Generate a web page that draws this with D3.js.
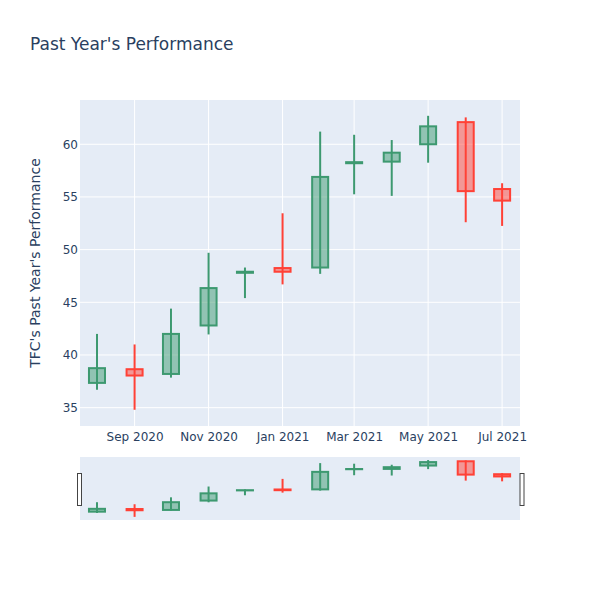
<!DOCTYPE html>
<html>
<head>
<meta charset="utf-8">
<script src="https://cdn.jsdelivr.net/npm/d3@7/dist/d3.min.js"></script>
<style>
  body { margin: 0; background: #fff; }
  svg text { font-family: "DejaVu Sans", sans-serif; fill: #2a3f5f; }
</style>
</head>
<body>
<svg id="chart" width="600" height="600"></svg>
<script>
const dates = ["2020-08-01","2020-09-01","2020-10-01","2020-11-01","2020-12-01","2021-01-01",
               "2021-02-01","2021-03-01","2021-04-01","2021-05-01","2021-06-01","2021-07-01"];
const openVals  = [37.35, 38.65, 38.2, 42.8, 47.8, 48.25, 48.3, 58.2, 58.35, 60.0, 62.1, 55.75];
const highVals  = [42.0, 41.0, 44.4, 49.7, 48.3, 53.45, 61.2, 60.9, 60.4, 62.7, 62.55, 56.3];
const lowVals   = [36.7, 34.8, 37.85, 41.95, 45.4, 46.7, 47.7, 55.25, 55.1, 58.25, 52.6, 52.25];
const closeVals = [38.75, 38.05, 42.0, 46.35, 47.9, 47.9, 56.9, 58.3, 59.2, 61.7, 55.55, 54.65];
const yTicks = [35, 40, 45, 50, 55, 60];
const xTickDates = ["2020-09-01","2020-11-01","2021-01-01","2021-03-01","2021-05-01","2021-07-01"];
const xTickLabels = ["Sep 2020","Nov 2020","Jan 2021","Mar 2021","May 2021","Jul 2021"];
const titleText = "Past Year's Performance";
const yTitle = "TFC's Past Year's Performance";

const parse = d3.utcParse("%Y-%m-%d");
const data = dates.map((d, i) => ({
  date: parse(d), open: openVals[i], high: highVals[i], low: lowVals[i], close: closeVals[i]
}));

const svg = d3.select("#chart");
const plot = {left: 80, right: 520, top: 100, bottom: 426};
const slider = {top: 457, bottom: 520};

const x = d3.scaleUtc()
  .domain([new Date(Date.UTC(2020, 6, 18)), new Date(Date.UTC(2021, 6, 15, 18))])
  .range([plot.left, plot.right]);
const yDomain = [33.26, 64.2];
const y = d3.scaleLinear().domain(yDomain).range([plot.bottom, plot.top]);
const ys = d3.scaleLinear().domain(yDomain).range([slider.bottom, slider.top]);

const DAY = 86400000;
const halfW = 6.6 * DAY;
const incColor = "rgb(61,153,112)";
const decColor = "rgb(255,65,54)";

svg.append("rect").attr("x", plot.left).attr("y", plot.top)
  .attr("width", plot.right - plot.left).attr("height", plot.bottom - plot.top)
  .attr("fill", "#E5ECF6");

const xTicks = xTickDates.map(parse);
svg.append("g").selectAll("line").data(xTicks).join("line")
  .attr("x1", d => x(d)).attr("x2", d => x(d))
  .attr("y1", plot.top).attr("y2", plot.bottom)
  .attr("stroke", "#fff").attr("stroke-width", 1);
svg.append("g").selectAll("line").data(yTicks).join("line")
  .attr("x1", plot.left).attr("x2", plot.right)
  .attr("y1", d => y(d)).attr("y2", d => y(d))
  .attr("stroke", "#fff").attr("stroke-width", 1);

const yAxis = d3.axisLeft(y).tickValues(yTicks).tickSize(0).tickPadding(2);
const gy = svg.append("g").attr("transform", `translate(${plot.left},0)`).call(yAxis);
gy.select(".domain").remove();
gy.selectAll("text").attr("font-size", 12).style("fill", "#2a3f5f")
  .attr("font-family", "'DejaVu Sans', sans-serif");

const xAxis = d3.axisBottom(x).tickValues(xTicks)
  .tickFormat((d, i) => xTickLabels[i]).tickSize(0).tickPadding(6);
const gx = svg.append("g").attr("transform", `translate(0,${plot.bottom})`).call(xAxis);
gx.select(".domain").remove();
gx.selectAll("text").attr("font-size", 12).style("fill", "#2a3f5f")
  .attr("font-family", "'DejaVu Sans', sans-serif");

function drawCandles(g, yScale) {
  const c = g.selectAll("g.candle").data(data).join("g").attr("class", "candle");
  c.append("line")
    .attr("x1", d => x(d.date)).attr("x2", d => x(d.date))
    .attr("y1", d => yScale(d.high)).attr("y2", d => yScale(d.low))
    .attr("stroke", d => d.close >= d.open ? incColor : decColor)
    .attr("stroke-width", 2);
  c.append("rect")
    .attr("x", d => x(new Date(d.date.getTime() - halfW)))
    .attr("width", d => x(new Date(d.date.getTime() + halfW)) - x(new Date(d.date.getTime() - halfW)))
    .attr("y", d => yScale(Math.max(d.open, d.close)))
    .attr("height", d => Math.abs(yScale(d.open) - yScale(d.close)))
    .attr("fill", d => d.close >= d.open ? "rgba(61,153,112,0.5)" : "rgba(255,65,54,0.5)")
    .attr("stroke", d => d.close >= d.open ? incColor : decColor)
    .attr("stroke-width", 2);
}

svg.append("defs").append("clipPath").attr("id", "clipMain")
  .append("rect").attr("x", plot.left).attr("y", plot.top)
  .attr("width", plot.right - plot.left).attr("height", plot.bottom - plot.top);
drawCandles(svg.append("g").attr("clip-path", "url(#clipMain)"), y);

svg.append("rect").attr("x", plot.left).attr("y", slider.top)
  .attr("width", plot.right - plot.left).attr("height", slider.bottom - slider.top)
  .attr("fill", "#E5ECF6");
drawCandles(svg.append("g"), ys);
[plot.left - 2, plot.right + 0.5].forEach(hx => {
  svg.append("rect").attr("x", hx - 0.5).attr("y", 473.5).attr("width", 4).attr("height", 32)
    .attr("fill", "#fff").attr("stroke", "#444").attr("stroke-width", 1);
});

svg.append("text").attr("x", 30).attr("y", 50).attr("font-size", 17).text(titleText);
svg.append("text")
  .attr("transform", `translate(40,${(plot.top + plot.bottom) / 2}) rotate(-90)`)
  .attr("text-anchor", "middle").attr("font-size", 14).text(yTitle);
</script>
</body>
</html>
